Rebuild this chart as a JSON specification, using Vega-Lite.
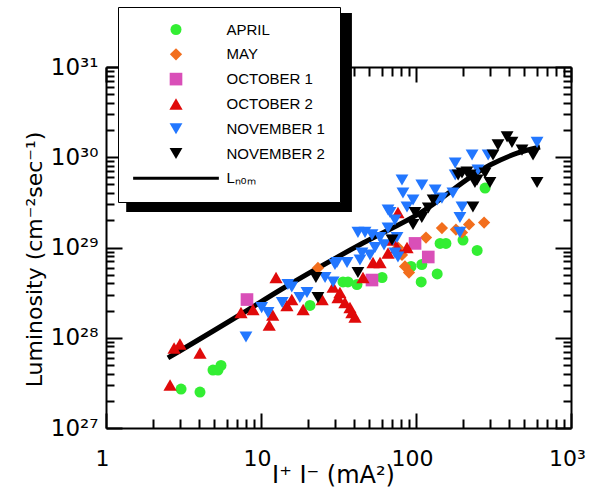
{
  "$schema": "https://vega.github.io/schema/vega-lite/v6.json",
  "width": 465,
  "height": 361,
  "autosize": "none",
  "padding": {"left": 106, "top": 67, "right": 22, "bottom": 59},
  "background": "white",
  "config": {
    "view": {"stroke": null},
    "axis": {"grid": false, "domainColor": "black", "tickColor": "black", "domainWidth": 2, "tickWidth": 2, "labelColor": "black", "titleColor": "black", "labelFont": "DejaVu Sans", "titleFont": "DejaVu Sans", "labelFlush": false, "labelOverlap": false, "labelBound": false, "titleFontWeight": "normal"}
  },
  "datasets": {
    "nom": [
      {"x": 2.51, "y": 5.97e27}, {"x": 7.65, "y": 1.88e28}, {"x": 13.3, "y": 3.38e28}, {"x": 45.5, "y": 1.12e29},
      {"x": 106, "y": 2.41e29}, {"x": 300, "y": 8.2e29}, {"x": 449, "y": 1.11e30}, {"x": 631, "y": 1.3e30}
    ],
    "pts": [
      {"s": "APRIL", "x": 3.05, "y": 2.7e27}, {"s": "APRIL", "x": 4.04, "y": 2.5e27}, {"s": "APRIL", "x": 4.9, "y": 4.39e27},
      {"s": "APRIL", "x": 5.28, "y": 4.39e27}, {"s": "APRIL", "x": 5.52, "y": 4.93e27}, {"s": "APRIL", "x": 20.7, "y": 2.28e28},
      {"s": "APRIL", "x": 33.8, "y": 4.15e28}, {"s": "APRIL", "x": 36.4, "y": 4.15e28}, {"s": "APRIL", "x": 41.6, "y": 3.89e28},
      {"s": "APRIL", "x": 60.4, "y": 4.65e28}, {"s": "APRIL", "x": 92.9, "y": 6.16e28}, {"s": "APRIL", "x": 108, "y": 4.15e28},
      {"s": "APRIL", "x": 109, "y": 6.48e28}, {"s": "APRIL", "x": 137, "y": 5.09e28}, {"s": "APRIL", "x": 143, "y": 1.11e29},
      {"s": "APRIL", "x": 156, "y": 1.11e29}, {"s": "APRIL", "x": 201, "y": 1.21e29}, {"s": "APRIL", "x": 248, "y": 9.27e28},
      {"s": "APRIL", "x": 279, "y": 4.56e29},
      {"s": "MAY", "x": 23.3, "y": 5.93e28}, {"s": "MAY", "x": 76.5, "y": 1.0e29}, {"s": "MAY", "x": 81.2, "y": 8.26e28},
      {"s": "MAY", "x": 84.9, "y": 6.16e28}, {"s": "MAY", "x": 90.1, "y": 5.28e28}, {"s": "MAY", "x": 116, "y": 1.29e29},
      {"s": "MAY", "x": 147, "y": 1.64e29}, {"s": "MAY", "x": 181, "y": 1.58e29}, {"s": "MAY", "x": 198, "y": 1.47e29},
      {"s": "MAY", "x": 220, "y": 1.8e29}, {"s": "MAY", "x": 275, "y": 1.89e29},
      {"s": "OCTOBER 1", "x": 8.12, "y": 2.65e28}, {"s": "OCTOBER 1", "x": 52.0, "y": 4.36e28},
      {"s": "OCTOBER 1", "x": 98.6, "y": 1.11e29}, {"s": "OCTOBER 1", "x": 120, "y": 7.85e28},
      {"s": "OCTOBER 2", "x": 2.59, "y": 2.99e27}, {"s": "OCTOBER 2", "x": 2.75, "y": 7.7e27}, {"s": "OCTOBER 2", "x": 3.0, "y": 8.53e27},
      {"s": "OCTOBER 2", "x": 4.04, "y": 6.78e27}, {"s": "OCTOBER 2", "x": 7.43, "y": 1.9e28}, {"s": "OCTOBER 2", "x": 8.88, "y": 2.06e28},
      {"s": "OCTOBER 2", "x": 11.3, "y": 1.38e28}, {"s": "OCTOBER 2", "x": 11.9, "y": 1.79e28}, {"s": "OCTOBER 2", "x": 12.5, "y": 4.65e28},
      {"s": "OCTOBER 2", "x": 14.7, "y": 2.28e28}, {"s": "OCTOBER 2", "x": 15.8, "y": 2.65e28}, {"s": "OCTOBER 2", "x": 18.7, "y": 2.06e28},
      {"s": "OCTOBER 2", "x": 24.8, "y": 2.65e28}, {"s": "OCTOBER 2", "x": 29.2, "y": 3.65e28}, {"s": "OCTOBER 2", "x": 31.4, "y": 2.79e28},
      {"s": "OCTOBER 2", "x": 32.3, "y": 3.17e28}, {"s": "OCTOBER 2", "x": 34.8, "y": 2.46e28}, {"s": "OCTOBER 2", "x": 37.5, "y": 2.16e28},
      {"s": "OCTOBER 2", "x": 38.6, "y": 1.9e28}, {"s": "OCTOBER 2", "x": 40.4, "y": 1.7e28}, {"s": "OCTOBER 2", "x": 45.5, "y": 4.65e28},
      {"s": "OCTOBER 2", "x": 52.8, "y": 6.82e28}, {"s": "OCTOBER 2", "x": 58.6, "y": 6.82e28}, {"s": "OCTOBER 2", "x": 66.0, "y": 8.69e28},
      {"s": "OCTOBER 2", "x": 70.0, "y": 1.21e29}, {"s": "OCTOBER 2", "x": 75.4, "y": 1.0e29}, {"s": "OCTOBER 2", "x": 87.5, "y": 1.0e29},
      {"s": "OCTOBER 2", "x": 76.5, "y": 2.44e29},
      {"s": "NOVEMBER 1", "x": 8.0, "y": 1.02e28}, {"s": "NOVEMBER 1", "x": 10.1, "y": 2.16e28}, {"s": "NOVEMBER 1", "x": 11.1, "y": 1.9e28},
      {"s": "NOVEMBER 1", "x": 13.7, "y": 2.46e28}, {"s": "NOVEMBER 1", "x": 14.9, "y": 3.89e28}, {"s": "NOVEMBER 1", "x": 15.8, "y": 3.65e28},
      {"s": "NOVEMBER 1", "x": 17.8, "y": 2.79e28}, {"s": "NOVEMBER 1", "x": 19.8, "y": 3.17e28}, {"s": "NOVEMBER 1", "x": 25.9, "y": 4.65e28},
      {"s": "NOVEMBER 1", "x": 29.2, "y": 4.15e28}, {"s": "NOVEMBER 1", "x": 30.0, "y": 6.48e28}, {"s": "NOVEMBER 1", "x": 30.9, "y": 6.82e28},
      {"s": "NOVEMBER 1", "x": 35.9, "y": 6.82e28}, {"s": "NOVEMBER 1", "x": 43.5, "y": 7.26e28}, {"s": "NOVEMBER 1", "x": 44.8, "y": 8.69e28},
      {"s": "NOVEMBER 1", "x": 42.2, "y": 1.47e29}, {"s": "NOVEMBER 1", "x": 46.9, "y": 1.47e29}, {"s": "NOVEMBER 1", "x": 50.5, "y": 8.26e28},
      {"s": "NOVEMBER 1", "x": 52.0, "y": 1.38e29}, {"s": "NOVEMBER 1", "x": 54.4, "y": 1.0e29}, {"s": "NOVEMBER 1", "x": 58.6, "y": 1.29e29},
      {"s": "NOVEMBER 1", "x": 62.2, "y": 1.07e29}, {"s": "NOVEMBER 1", "x": 66.0, "y": 2.6e29}, {"s": "NOVEMBER 1", "x": 68.0, "y": 2.44e29},
      {"s": "NOVEMBER 1", "x": 66.0, "y": 1.64e29}, {"s": "NOVEMBER 1", "x": 73.2, "y": 8.69e28}, {"s": "NOVEMBER 1", "x": 75.4, "y": 1.29e29},
      {"s": "NOVEMBER 1", "x": 71.1, "y": 1.21e29}, {"s": "NOVEMBER 1", "x": 73.2, "y": 2.02e29}, {"s": "NOVEMBER 1", "x": 76.5, "y": 7.85e28},
      {"s": "NOVEMBER 1", "x": 81.2, "y": 5.6e29}, {"s": "NOVEMBER 1", "x": 82.4, "y": 4.02e29}, {"s": "NOVEMBER 1", "x": 87.5, "y": 2.81e29},
      {"s": "NOVEMBER 1", "x": 95.7, "y": 3.36e29}, {"s": "NOVEMBER 1", "x": 109, "y": 4.93e29}, {"s": "NOVEMBER 1", "x": 133, "y": 4.34e29},
      {"s": "NOVEMBER 1", "x": 137, "y": 3.36e29}, {"s": "NOVEMBER 1", "x": 147, "y": 3.53e29}, {"s": "NOVEMBER 1", "x": 173, "y": 4.02e29},
      {"s": "NOVEMBER 1", "x": 179, "y": 8.63e29}, {"s": "NOVEMBER 1", "x": 179, "y": 6.36e29}, {"s": "NOVEMBER 1", "x": 198, "y": 2.81e29},
      {"s": "NOVEMBER 1", "x": 192, "y": 2.15e29}, {"s": "NOVEMBER 1", "x": 192, "y": 1.47e29}, {"s": "NOVEMBER 1", "x": 230, "y": 1.06e30},
      {"s": "NOVEMBER 1", "x": 292, "y": 1.06e30}, {"s": "NOVEMBER 1", "x": 251, "y": 7.22e29}, {"s": "NOVEMBER 1", "x": 604, "y": 1.46e30},
      {"s": "NOVEMBER 2", "x": 22.6, "y": 4.65e28}, {"s": "NOVEMBER 2", "x": 23.3, "y": 2.79e28}, {"s": "NOVEMBER 2", "x": 42.2, "y": 5.28e28},
      {"s": "NOVEMBER 2", "x": 70.0, "y": 1.21e29}, {"s": "NOVEMBER 2", "x": 95.7, "y": 1.8e29}, {"s": "NOVEMBER 2", "x": 98.6, "y": 2.44e29},
      {"s": "NOVEMBER 2", "x": 109, "y": 2.15e29}, {"s": "NOVEMBER 2", "x": 120, "y": 2.74e29}, {"s": "NOVEMBER 2", "x": 129, "y": 3.36e29},
      {"s": "NOVEMBER 2", "x": 187, "y": 6.36e29}, {"s": "NOVEMBER 2", "x": 198, "y": 6.69e29}, {"s": "NOVEMBER 2", "x": 213, "y": 6.87e29},
      {"s": "NOVEMBER 2", "x": 223, "y": 6.36e29}, {"s": "NOVEMBER 2", "x": 240, "y": 5.25e29}, {"s": "NOVEMBER 2", "x": 248, "y": 5.6e29},
      {"s": "NOVEMBER 2", "x": 279, "y": 6.69e29}, {"s": "NOVEMBER 2", "x": 300, "y": 5.25e29}, {"s": "NOVEMBER 2", "x": 233, "y": 2.81e29},
      {"s": "NOVEMBER 2", "x": 314, "y": 1.06e30}, {"s": "NOVEMBER 2", "x": 338, "y": 1.37e30}, {"s": "NOVEMBER 2", "x": 387, "y": 1.68e30},
      {"s": "NOVEMBER 2", "x": 416, "y": 1.46e30}, {"s": "NOVEMBER 2", "x": 483, "y": 1.2e30}, {"s": "NOVEMBER 2", "x": 569, "y": 1.06e30},
      {"s": "NOVEMBER 2", "x": 604, "y": 5.25e29}
    ]
  },
  "layer": [
    {
      "data": {"values": [{}]},
      "mark": {"type": "rect", "color": "black", "clip": false},
      "encoding": {
        "x": {"datum": 1.35, "type": "quantitative", "axis": null, "scale": {"type": "log", "domain": [1, 1000], "nice": false}},
        "x2": {"datum": 38.6},
        "y": {"datum": 3.96e31, "type": "quantitative", "axis": null, "scale": {"type": "log", "domain": [1e27, 1e31], "nice": false}},
        "y2": {"datum": 2.47e29}
      }
    },
    {
      "data": {"name": "nom"},
      "mark": {"type": "line", "color": "black", "strokeWidth": 5, "interpolate": "monotone"},
      "encoding": {
        "x": {"field": "x", "type": "quantitative", "axis": null},
        "y": {"field": "y", "type": "quantitative", "axis": null}
      }
    },
    {
      "data": {"name": "pts"},
      "mark": {"type": "point", "filled": true, "opacity": 1},
      "encoding": {
        "x": {
          "field": "x", "type": "quantitative",
          "scale": {"type": "log", "domain": [1, 1000], "nice": false},
          "axis": {"orient": "bottom", "values": [1, 2, 3, 4, 5, 6, 7, 8, 9, 10, 20, 30, 40, 50, 60, 70, 80, 90, 100, 200, 300, 400, 500, 600, 700, 800, 900, 1000],
            "domain": true, "labelFontSize": 22, "labelPadding": 35, "labelOffset": -4,
            "tickSize": {"condition": {"test": "abs(log(datum.value)/LN10 - round(log(datum.value)/LN10)) < 0.01", "value": -15}, "value": -9},
            "labelExpr": "datum.value == 1 ? '1' : datum.value == 10 ? '10' : datum.value == 100 ? '100' : datum.value == 1000 ? '10³' : ''",
            "title": "I⁺ I⁻ (mA²)", "titleFontSize": 24, "titleX": 227, "titleY": 47, "titleBaseline": "middle", "titleAlign": "center"}
        },
        "y": {
          "field": "y", "type": "quantitative",
          "scale": {"type": "log", "domain": [1e27, 1e31], "nice": false},
          "axis": {"orient": "left", "values": [1e27, 2e27, 3e27, 4e27, 5e27, 6e27, 7e27, 8e27, 9e27, 1e28, 2e28, 3e28, 4e28, 5e28, 6e28, 7e28, 8e28, 9e28, 1e29, 2e29, 3e29, 4e29, 5e29, 6e29, 7e29, 8e29, 9e29, 1e30, 2e30, 3e30, 4e30, 5e30, 6e30, 7e30, 8e30, 9e30, 1e31],
            "domain": true, "labelFontSize": 23, "labelPadding": 24,
            "tickSize": {"condition": {"test": "abs(log(datum.value)/LN10 - round(log(datum.value)/LN10)) < 0.01", "value": -16}, "value": -8},
            "labelExpr": "abs(log(datum.value)/LN10 - round(log(datum.value)/LN10)) > 0.01 ? '' : datum.value < 5e27 ? '10²⁷' : datum.value < 5e28 ? '10²⁸' : datum.value < 5e29 ? '10²⁹' : datum.value < 5e30 ? '10³⁰' : '10³¹'",
            "title": "Luminosity  (cm⁻²sec⁻¹)", "titleFontSize": 22, "titleX": -72, "titleY": 192, "titleBaseline": "middle", "titleAlign": "center", "titleAngle": -90}
        },
        "color": {
          "field": "s", "type": "nominal",
          "scale": {"domain": ["APRIL", "MAY", "OCTOBER 1", "OCTOBER 2", "NOVEMBER 1", "NOVEMBER 2", "Lₙₒₘ"],
            "range": ["#33EE33", "#F26E1D", "#D94FB8", "#E00A0A", "#2277FF", "#000000", "#000000"]},
          "legend": {
            "orient": "none", "legendX": 12, "legendY": -60, "title": null, "padding": 15,
            "fillColor": "white", "strokeColor": "black", "symbolSize": 150, "symbolOffset": 35.5, "labelOffset": 43,
            "labelFontSize": 15, "labelFont": "Liberation Sans", "rowPadding": 8.8, "labelLimit": 300,
            "encode": {
              "symbols": {"update": {"opacity": {"value": 1}}},
              "labels": {"update": {"fill": {"signal": "scale('color', datum.value)"}, "font": {"signal": "datum.value === 'Lₙₒₘ' ? 'DejaVu Sans' : 'Liberation Sans'"}}},
              "legend": {"update": {"strokeWidth": {"value": 2}}}
            }
          }
        },
        "shape": {
          "field": "s", "type": "nominal",
          "scale": {"domain": ["APRIL", "MAY", "OCTOBER 1", "OCTOBER 2", "NOVEMBER 1", "NOVEMBER 2", "Lₙₒₘ"],
            "range": ["circle", "diamond", "square", "triangle-up", "triangle-down", "triangle-down", "M-7,-0.25H7V0.25H-7Z"]}
        },
        "size": {
          "field": "s", "type": "nominal", "legend": null,
          "scale": {"type": "ordinal", "domain": ["APRIL", "MAY", "OCTOBER 1", "OCTOBER 2", "NOVEMBER 1", "NOVEMBER 2", "Lₙₒₘ"],
            "range": [121, 150, 160, 175, 165, 165, 150]}
        }
      }
    },
    {
      "data": {"values": [{}]},
      "mark": {"type": "point", "opacity": 0},
      "encoding": {
        "x": {"datum": 10, "type": "quantitative", "axis": {"orient": "top", "values": [1, 2, 3, 4, 5, 6, 7, 8, 9, 10, 20, 30, 40, 50, 60, 70, 80, 90, 100, 200, 300, 400, 500, 600, 700, 800, 900, 1000], "labels": false, "domain": true, "title": null,
          "tickSize": {"condition": {"test": "abs(log(datum.value)/LN10 - round(log(datum.value)/LN10)) < 0.01", "value": -15}, "value": -9}}},
        "y": {"datum": 1e28, "type": "quantitative", "axis": {"orient": "right", "values": [1e27, 2e27, 3e27, 4e27, 5e27, 6e27, 7e27, 8e27, 9e27, 1e28, 2e28, 3e28, 4e28, 5e28, 6e28, 7e28, 8e28, 9e28, 1e29, 2e29, 3e29, 4e29, 5e29, 6e29, 7e29, 8e29, 9e29, 1e30, 2e30, 3e30, 4e30, 5e30, 6e30, 7e30, 8e30, 9e30, 1e31], "labels": false, "domain": true, "title": null,
          "tickSize": {"condition": {"test": "abs(log(datum.value)/LN10 - round(log(datum.value)/LN10)) < 0.01", "value": -16}, "value": -8}}}
      }
    }
  ],
  "resolve": {"axis": {"x": "independent", "y": "independent"}}
}
